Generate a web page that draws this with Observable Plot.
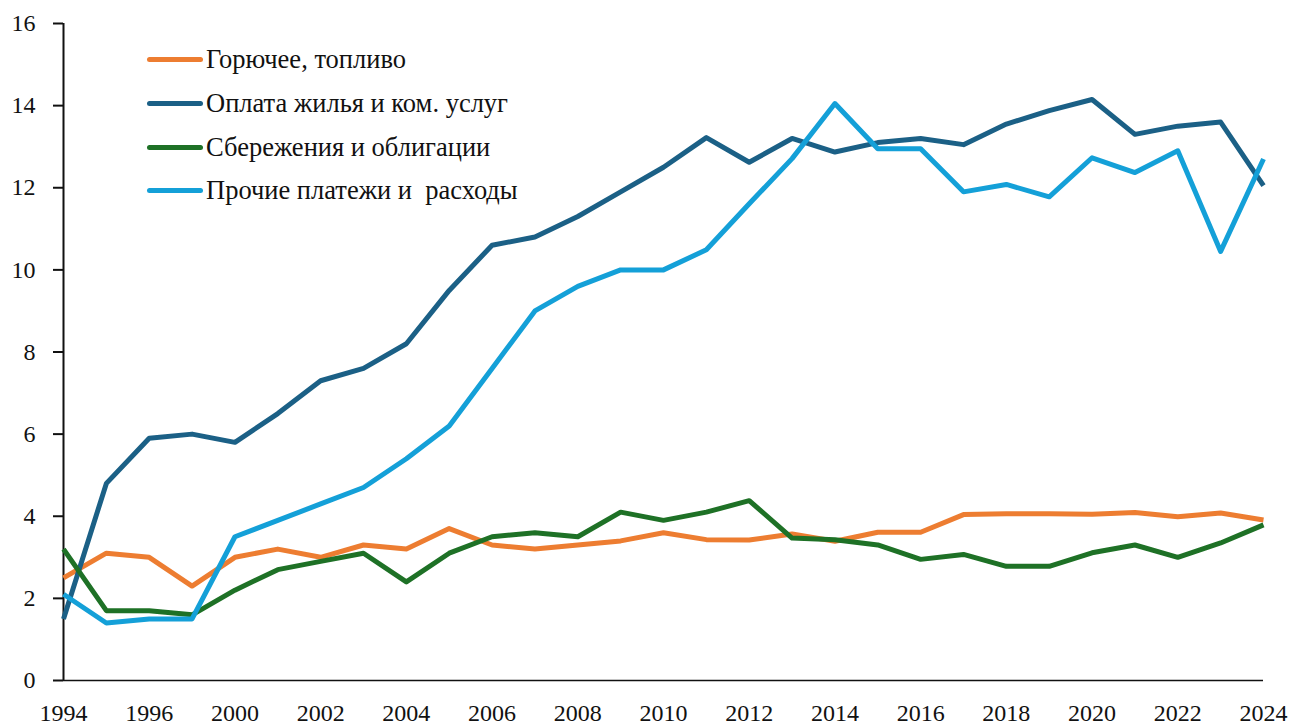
<!DOCTYPE html>
<html>
<head>
<meta charset="utf-8">
<script src="https://cdn.jsdelivr.net/npm/d3@7"></script>
<script src="https://cdn.jsdelivr.net/npm/@observablehq/plot@0.6"></script>
<style>
  html, body { margin: 0; padding: 0; background: #fff; }
  #wrap { position: relative; width: 1306px; height: 728px; }
  #legend { position: absolute; left: 147px; top: 38px; font-family: "Liberation Serif", serif; font-size: 26.5px; color: #111; }
  .row { display: flex; align-items: center; height: 43.7px; }
  .sw { width: 56px; height: 5px; border-radius: 3px; margin-right: 3px; }
</style>
</head>
<body>
<div id="wrap"></div>
<script>
const years = ["1994","1995","1996","1997","2000","2001","2002","2003","2004","2005","2006","2007","2008","2009","2010","2011","2012","2013","2014","2015","2016","2017","2018","2019","2020","2021","2022","2023","2024"];
const tickYears = ["1994","1996","2000","2002","2004","2006","2008","2010","2012","2014","2016","2018","2020","2022","2024"];
const seriesNames = ["Горючее, топливо","Оплата жилья и ком. услуг","Сбережения и облигации","Прочие платежи и  расходы"];
const seriesColors = ["#ED7D31","#1B6086","#1E7126","#14A0D8"];
const fuel    = [2.5,3.1,3.0,2.3,3.0,3.2,3.0,3.3,3.2,3.7,3.3,3.2,3.3,3.4,3.6,3.43,3.42,3.57,3.39,3.61,3.61,4.04,4.06,4.06,4.05,4.09,3.99,4.08,3.91];
const housing = [1.5,4.8,5.9,6.0,5.8,6.5,7.3,7.6,8.2,9.5,10.6,10.8,11.3,11.9,12.5,13.22,12.62,13.2,12.87,13.1,13.2,13.05,13.55,13.88,14.15,13.3,13.5,13.6,12.05];
const savings = [3.2,1.7,1.7,1.6,2.2,2.7,2.9,3.1,2.4,3.1,3.5,3.6,3.5,4.1,3.9,4.1,4.38,3.47,3.43,3.3,2.95,3.07,2.78,2.78,3.11,3.3,3.0,3.35,3.79];
const other   = [2.1,1.4,1.5,1.5,3.5,3.9,4.3,4.7,5.4,6.2,7.6,9.0,9.6,10.0,10.0,10.49,11.61,12.71,14.05,12.95,12.95,11.9,12.08,11.78,12.73,12.37,12.9,10.45,12.7];
const yTicks = [0,2,4,6,8,10,12,14,16];

const allSeries = [fuel, housing, savings, other];
const data = [];
allSeries.forEach((vals, s) => vals.forEach((v, i) => data.push({idx: i, year: years[i], value: v, series: seriesNames[s]})));
const xTickIdx = tickYears.map(y => years.indexOf(y));

const chart = Plot.plot({
  width: 1306,
  height: 728,
  marginLeft: 63,
  marginRight: 43,
  marginTop: 23,
  marginBottom: 48,
  style: { fontFamily: "Liberation Serif, serif", fontSize: "24px", color: "#111", background: "#fff", overflow: "visible" },
  x: { type: "linear", domain: [0, years.length - 1], label: null },
  y: { domain: [0, 16], label: null },
  color: { domain: seriesNames, range: seriesColors },
  marks: [
    Plot.axisX({ ticks: xTickIdx, tickFormat: i => years[i], tickSize: 0, tickPadding: 23, label: null, fontSize: 24 }),
    Plot.axisY({ ticks: yTicks, tickSize: 10, tickPadding: 18, label: null, fontSize: 24, strokeWidth: 2 }),
    Plot.ruleY([0], { stroke: "#111", strokeWidth: 1.5 }),
    Plot.ruleX([0], { y1: 0, y2: 16, stroke: "#111", strokeWidth: 2 }),
    Plot.lineY(data, { x: "idx", y: "value", z: "series", stroke: "series", strokeWidth: 5, strokeLinejoin: "round", strokeLinecap: "butt" })
  ]
});
const wrap = document.getElementById("wrap");
wrap.appendChild(chart);

const legend = document.createElement("div");
legend.id = "legend";
seriesNames.forEach((name, i) => {
  const row = document.createElement("div");
  row.className = "row";
  const sw = document.createElement("div");
  sw.className = "sw";
  sw.style.background = seriesColors[i];
  const t = document.createElement("span");
  t.textContent = name;
  t.style.whiteSpace = "pre";
  row.appendChild(sw);
  row.appendChild(t);
  legend.appendChild(row);
});
wrap.appendChild(legend);
</script>
</body>
</html>
